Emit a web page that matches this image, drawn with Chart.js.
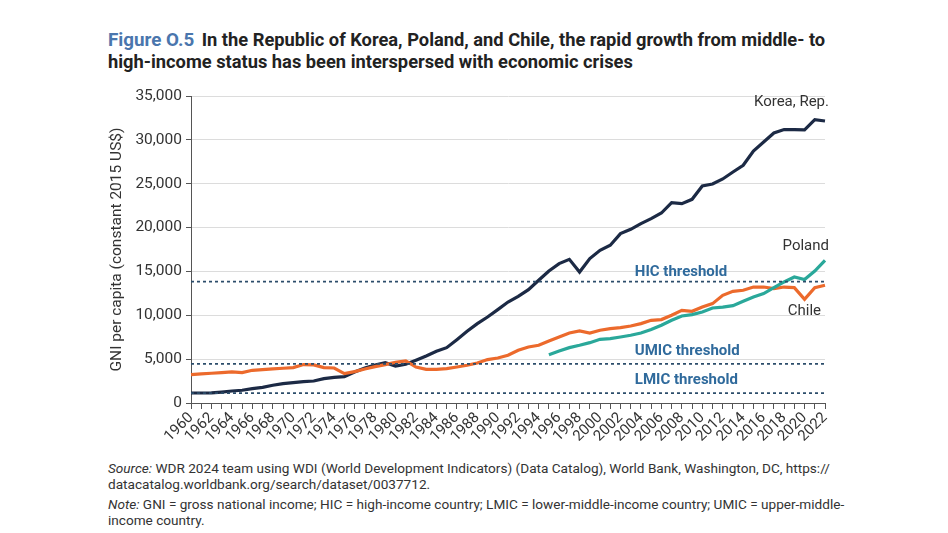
<!DOCTYPE html>
<html>
<head>
<meta charset="utf-8">
<script src="https://cdn.jsdelivr.net/npm/chart.js@4.4.1/dist/chart.umd.min.js"></script>
<style>
  body { margin: 0; background: #fff; font-family: Roboto, sans-serif; width: 948px; height: 533px; position: relative; overflow: hidden; }
  #title { position: absolute; left: 108px; top: 29px; font-weight: bold; font-size: 18.3px; line-height: 22px; color: #222; white-space: nowrap; }
  #title .fig { color: #4a76ad; font-size: 18.8px; margin-right: 3px; }
  #chartbox { position: absolute; left: 100px; top: 80px; width: 750px; height: 375px; }
  #notes { position: absolute; left: 108px; top: 460px; font-size: 13.6px; color: #333; line-height: 16px; white-space: nowrap; }
  #notes p { margin: 0 0 4px 0; }
</style>
</head>
<body>
<div id="title"><span class="fig">Figure O.5</span> In the Republic of Korea, Poland, and Chile, the rapid growth from middle- to<br>high-income status has been interspersed with economic crises</div>
<div id="chartbox"><canvas id="myChart"></canvas></div>
<div id="notes">
  <p><i>Source:</i> WDR 2024 team using WDI (World Development Indicators) (Data Catalog), World Bank, Washington, DC, https://<br>datacatalog.worldbank.org/search/dataset/0037712.</p>
  <p><i>Note:</i> GNI = gross national income; HIC = high-income country; LMIC = lower-middle-income country; UMIC = upper-middle-<br>income country.</p>
</div>
<script>
// GNI per capita, constant 2015 US$
const anos = [1960,1961,1962,1963,1964,1965,1966,1967,1968,1969,
              1970,1971,1972,1973,1974,1975,1976,1977,1978,1979,
              1980,1981,1982,1983,1984,1985,1986,1987,1988,1989,
              1990,1991,1992,1993,1994,1995,1996,1997,1998,1999,
              2000,2001,2002,2003,2004,2005,2006,2007,2008,2009,
              2010,2011,2012,2013,2014,2015,2016,2017,2018,2019,
              2020,2021,2022];

const korea = [1140,1140,1150,1250,1370,1450,1640,1790,2020,2210,
               2320,2440,2510,2780,2930,3010,3540,3990,4330,4600,
               4220,4410,4870,5360,5890,6310,7220,8170,9050,9800,
               10640,11510,12160,12920,13990,15050,15890,16380,14930,16460,
               17410,17980,19310,19800,20450,21020,21660,22850,22730,23220,
               24740,24970,25540,26330,27100,28730,29750,30780,31170,31170,
               31150,32310,32150];

const chile = [3230,3310,3390,3460,3540,3460,3730,3810,3880,3960,
               4030,4380,4340,4030,3990,3350,3580,3880,4150,4380,
               4640,4790,4100,3840,3840,3920,4100,4300,4560,4950,
               5130,5440,6010,6380,6580,7070,7520,7980,8210,7980,
               8290,8480,8590,8780,9050,9430,9510,10000,10570,10450,
               10940,11330,12280,12730,12850,13220,13220,13040,13220,13150,
               11820,13150,13420];

// Poland series starts in 1995
const polonia_inicio = 1995;
const polonia = [5510,5930,6310,6580,6880,
                 7260,7340,7520,7720,7980,8370,8860,9430,9920,10080,
                 10370,10830,10940,11100,11590,12080,12470,13150,13800,14360,
                 14070,15050,16270];

const HIC = 13845;
const UMIC = 4465;
const LMIC = 1135;

const yTicks = [0,5000,10000,15000,20000,25000,30000,35000];

// text labels anchored at (year, value)
const rotulosSeries = [
  { texto: 'Korea, Rep.', ano: 2022, valor: 34300, alinha: 'right', dx: 4 },
  { texto: 'Poland',      ano: 2022, valor: 17850, alinha: 'right', dx: 4 },
  { texto: 'Chile',       ano: 2022, valor: 10450, alinha: 'right', dx: -4 }
];
const rotulosLimiar = [
  { texto: 'HIC threshold',  ano: 2003.4, valor: 14900 },
  { texto: 'UMIC threshold', ano: 2003.4, valor: 5900 },
  { texto: 'LMIC threshold', ano: 2003.4, valor: 2590 }
];

const dadosPolonia = anos.map(a => a < polonia_inicio ? null : polonia[a - polonia_inicio]);
const linha = v => anos.map(() => v);

const pluginRotulos = {
  id: 'rotulos',
  afterDatasetsDraw(chart) {
    const c = chart.ctx;
    const xs = chart.scales.x, ys = chart.scales.y;
    const px = ano => {
      const i = Math.floor(ano - anos[0]);
      const p0 = xs.getPixelForValue(i);
      const p1 = xs.getPixelForValue(Math.min(i + 1, anos.length - 1));
      return p0 + (p1 - p0) * (ano - anos[0] - i);
    };
    c.save();
    c.textBaseline = 'middle';
    c.font = '15px Roboto';
    c.fillStyle = '#333';
    rotulosSeries.forEach(r => {
      c.textAlign = r.alinha;
      c.fillText(r.texto, px(r.ano) + r.dx, ys.getPixelForValue(r.valor));
    });
    c.font = 'bold 15px Roboto';
    c.fillStyle = '#2f6a9c';
    c.textAlign = 'left';
    rotulosLimiar.forEach(r => {
      c.fillText(r.texto, px(r.ano), ys.getPixelForValue(r.valor));
    });
    c.restore();
  }
};

const limiarEstilo = {
  borderColor: '#2c4d6b',
  borderWidth: 1.7,
  borderDash: [3, 3],
  pointRadius: 0,
  fill: false
};

var ctx = document.getElementById('myChart').getContext('2d');
chart = new Chart(ctx, {
  type: 'line',
  data: {
    labels: anos,
    datasets: [
      Object.assign({ label: 'HIC', data: linha(HIC) }, limiarEstilo),
      Object.assign({ label: 'UMIC', data: linha(UMIC) }, limiarEstilo),
      Object.assign({ label: 'LMIC', data: linha(LMIC) }, limiarEstilo),
      { label: 'Poland', data: dadosPolonia, borderColor: '#2aa89a', borderWidth: 3.2, pointRadius: 0, spanGaps: false },
      { label: 'Chile', data: chile, borderColor: '#ec6a2c', borderWidth: 3.2, pointRadius: 0 },
      { label: 'Korea, Rep.', data: korea, borderColor: '#1c2a45', borderWidth: 3.2, pointRadius: 0 }
    ]
  },
  options: {
    responsive: true,
    maintainAspectRatio: false,
    animation: { duration: 0 },
    layout: { padding: { left: 0, right: 25, top: 16, bottom: 0 } },
    plugins: {
      legend: { display: false },
      tooltip: { enabled: false }
    },
    elements: { line: { tension: 0 } },
    scales: {
      x: {
        grid: { drawOnChartArea: false, drawTicks: true, tickLength: 6, tickColor: '#555' },
        border: { color: '#555', width: 1 },
        ticks: {
          autoSkip: false,
          maxRotation: 45,
          minRotation: 45,
          padding: 0,
          color: '#333',
          font: { family: 'Roboto', size: 15 },
          callback: function (v, i) { return anos[i] % 2 === 0 ? String(anos[i]) : ''; }
        },
        afterFit: function (s) { s.height = 52; }
      },
      y: {
        min: 0,
        max: 35000,
        afterBuildTicks: function (s) { s.ticks = yTicks.map(v => ({ value: v })); },
        grid: { color: '#dcdcdc', tickColor: '#555', tickLength: 5, lineWidth: 1 },
        border: { color: '#555', width: 1 },
        ticks: {
          color: '#333',
          padding: 4,
          font: { family: 'Roboto', size: 15.5 },
          callback: v => v.toLocaleString('en-US')
        },
        title: {
          display: true,
          text: 'GNI per capita (constant 2015 US$)',
          color: '#333',
          font: { family: 'Roboto', size: 15.5 },
          padding: { top: 8, bottom: 0 }
        },
        afterFit: function (s) { s.width = 91; }
      }
    }
  },
  plugins: [pluginRotulos]
});
</script>
</body>
</html>
